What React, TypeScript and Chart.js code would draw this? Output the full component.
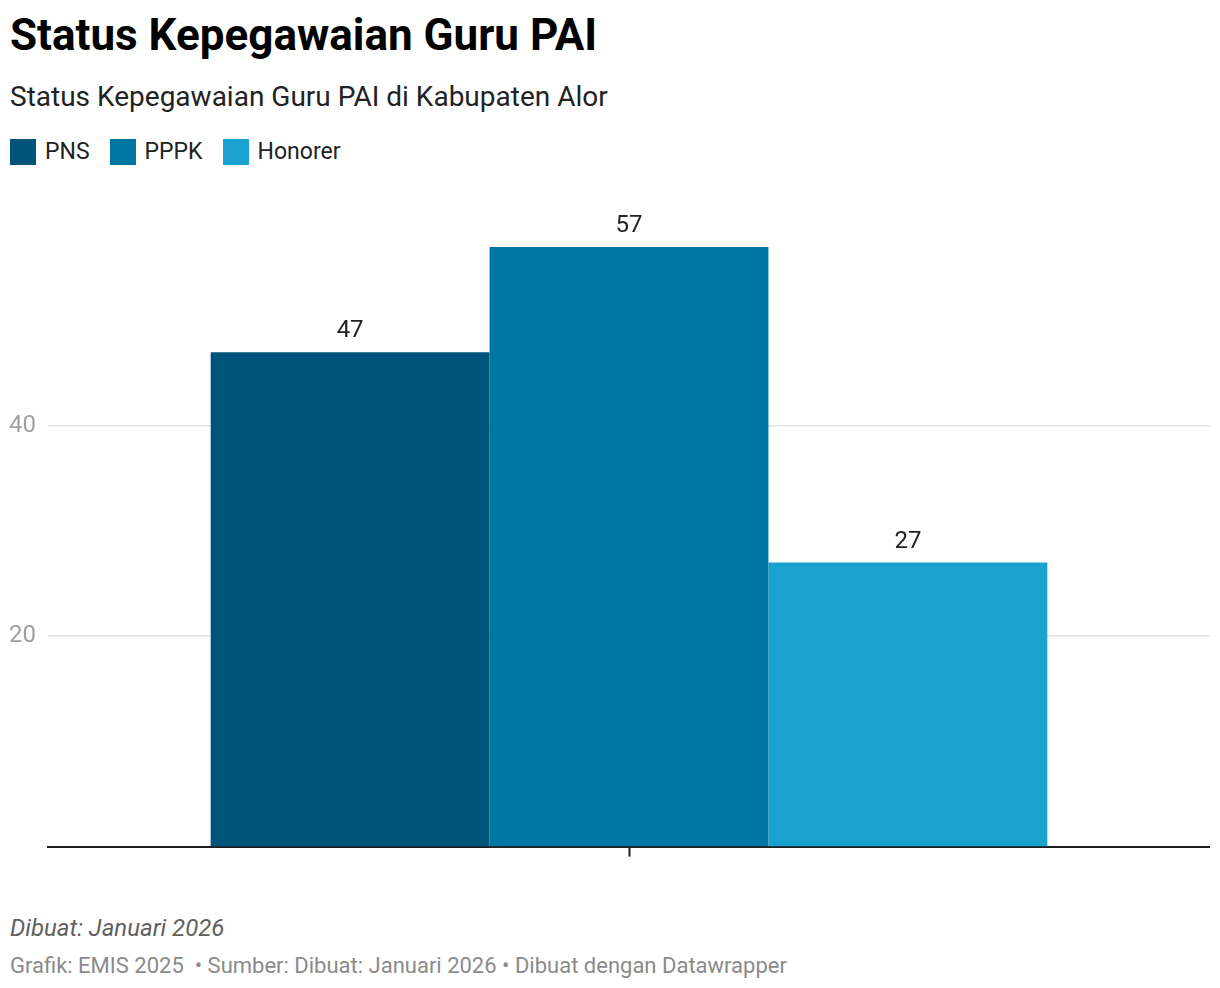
import React, { useEffect, useRef } from "react";
import { Chart, registerables } from "chart.js";

Chart.register(...registerables);

const categories = [""];
const seriesNames = ["PNS", "PPPK", "Honorer"];
const seriesValues = [[47], [57], [27]];
const seriesColors = ["#00547a", "#0077a3", "#19a1cf"];
const yTickValues = [20, 40];

const FONT = "Roboto, 'Noto Sans', sans-serif";

const valueLabels = {
  id: "valueLabels",
  afterDatasetsDraw(chart: any) {
    const ctx = chart.ctx;
    ctx.save();
    ctx.font = `24px ${FONT}`;
    ctx.fillStyle = "#222222";
    ctx.textAlign = "center";
    ctx.textBaseline = "alphabetic";
    chart.data.datasets.forEach((ds: any, i: number) => {
      const meta = chart.getDatasetMeta(i);
      meta.data.forEach((bar: any, j: number) => {
        ctx.fillText(String(ds.data[j]), bar.x, bar.y - 15);
      });
    });
    ctx.restore();
  },
};

export default function App() {
  const ref = useRef<HTMLCanvasElement>(null);

  useEffect(() => {
    if (!ref.current) return;
    const chart = new Chart(ref.current, {
      type: "bar",
      data: {
        labels: categories,
        datasets: seriesNames.map((name, i) => ({
          label: name,
          data: seriesValues[i],
          backgroundColor: seriesColors[i],
          borderWidth: 0,
        })),
      },
      options: {
        animation: false,
        responsive: false,
        maintainAspectRatio: false,
        layout: { padding: { top: 0, left: 0, right: 0, bottom: 0 } },
        datasets: { bar: { categoryPercentage: 0.72, barPercentage: 1 } },
        plugins: {
          legend: { display: false },
          title: { display: false },
          tooltip: { enabled: false },
        },
        scales: {
          x: {
            z: 1,
            grid: {
              display: true,
              offset: false,
              drawOnChartArea: false,
              drawTicks: true,
              tickLength: 10,
              tickWidth: 2,
              color: "#1d1d1d",
            },
            border: { display: true, color: "#1d1d1d", width: 2 },
            ticks: { display: false },
            afterFit(scale: any) {
              scale.height = 20;
            },
          },
          y: {
            min: 0,
            max: 60,
            afterBuildTicks(scale: any) {
              scale.ticks = yTickValues.map((v) => ({ value: v }));
            },
            grid: { color: "#e0e0e0", lineWidth: 1.5, drawTicks: false },
            border: { display: false },
            ticks: {
              padding: 12,
              color: "#a0a0a0",
              font: { family: FONT, size: 24 },
            },
            afterFit(scale: any) {
              scale.width = 48;
            },
          },
        },
      },
      plugins: [valueLabels],
    });
    return () => chart.destroy();
  }, []);

  const text = (extra: React.CSSProperties): React.CSSProperties => ({
    position: "absolute",
    left: 10,
    fontFamily: FONT,
    whiteSpace: "nowrap",
    ...extra,
  });

  return (
    <div
      style={{
        position: "absolute",
        left: 0,
        top: 0,
        width: 1220,
        height: 988,
        background: "#ffffff",
        overflow: "hidden",
      }}
    >
      <div style={text({ top: 9, fontSize: 44, lineHeight: "52px", fontWeight: 700, color: "#000" })}>
        Status Kepegawaian Guru PAI
      </div>
      <div style={text({ top: 80, fontSize: 28, lineHeight: "34px", color: "#222" })}>
        Status Kepegawaian Guru PAI di Kabupaten Alor
      </div>
      <div
        style={{
          position: "absolute",
          left: 10,
          top: 139,
          display: "flex",
          alignItems: "center",
          fontFamily: FONT,
          fontSize: 23,
          color: "#222",
        }}
      >
        {seriesNames.map((n, i) => (
          <div key={n} style={{ display: "flex", alignItems: "center", marginRight: 20 }}>
            <span style={{ display: "inline-block", width: 26, height: 26, background: seriesColors[i], marginRight: 9 }} />
            <span style={{ lineHeight: "26px" }}>{n}</span>
          </div>
        ))}
      </div>
      <div style={{ position: "absolute", left: 0, top: 189, width: 1210, height: 684 }}>
        <canvas ref={ref} width={1210} height={684} style={{ width: 1210, height: 684, display: "block" }} />
      </div>
      <div style={text({ top: 914, fontSize: 24, lineHeight: "28px", fontStyle: "italic", color: "#5f5f5f" })}>
        Dibuat: Januari 2026
      </div>
      <div style={text({ top: 953, fontSize: 22, lineHeight: "26px", color: "#8a8a8a" })}>
        Grafik: EMIS 2025&nbsp; • Sumber: Dibuat: Januari 2026 • Dibuat dengan Datawrapper
      </div>
    </div>
  );
}
